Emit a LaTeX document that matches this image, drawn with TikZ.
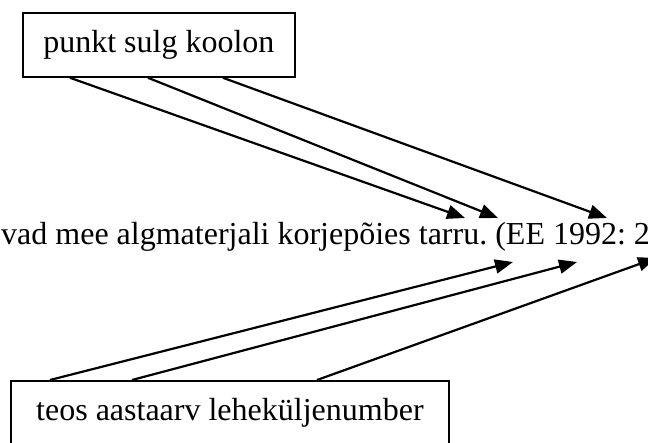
\documentclass[tikz,border=0pt]{standalone}
\usepackage{fontspec}
\setmainfont{Liberation Serif}
\usetikzlibrary{arrows.meta}
\frenchspacing
\tikzset{
  box/.style={draw, line width=1.8pt, inner sep=0pt, minimum height=64pt},
  arr/.style={line width=2.2pt, -{Triangle[length=18pt,width=14pt]}}
}
\begin{document}
\begin{tikzpicture}[x=1pt,y=-1pt,font=\fontsize{32}{38}\selectfont]
                \useasboundingbox (0,0) rectangle (648,443);

                \node[box, anchor=north west, minimum width=272pt] (marks) at (22,12) {punkt sulg koolon};
                \node[box, anchor=north west, minimum width=438pt] (source) at (10,380) {teos aastaarv leheküljenumber};
                \node[anchor=base west, inner sep=0pt] (sentence) at (1,245) {vad mee algmaterjali korjepõies tarru. (EE 1992: 2};

                \coordinate (dot) at (465,218);
                \coordinate (paren) at (498,218);
                \coordinate (colon) at (607,218);
                \coordinate (work) at (513,262);
                \coordinate (year) at (577,262);
                \coordinate (page) at (656,258);

                \draw[arr] ([xshift=48pt]marks.south west) -- (dot);
                \draw[arr] ([xshift=126pt]marks.south west) -- (paren);
                \draw[arr] ([xshift=201pt]marks.south west) -- (colon);
                \draw[arr] ([xshift=40pt]source.north west) -- (work);
                \draw[arr] ([xshift=122pt]source.north west) -- (year);
                \draw[arr] ([xshift=307pt]source.north west) -- (page);
            \end{tikzpicture}
\end{document}
